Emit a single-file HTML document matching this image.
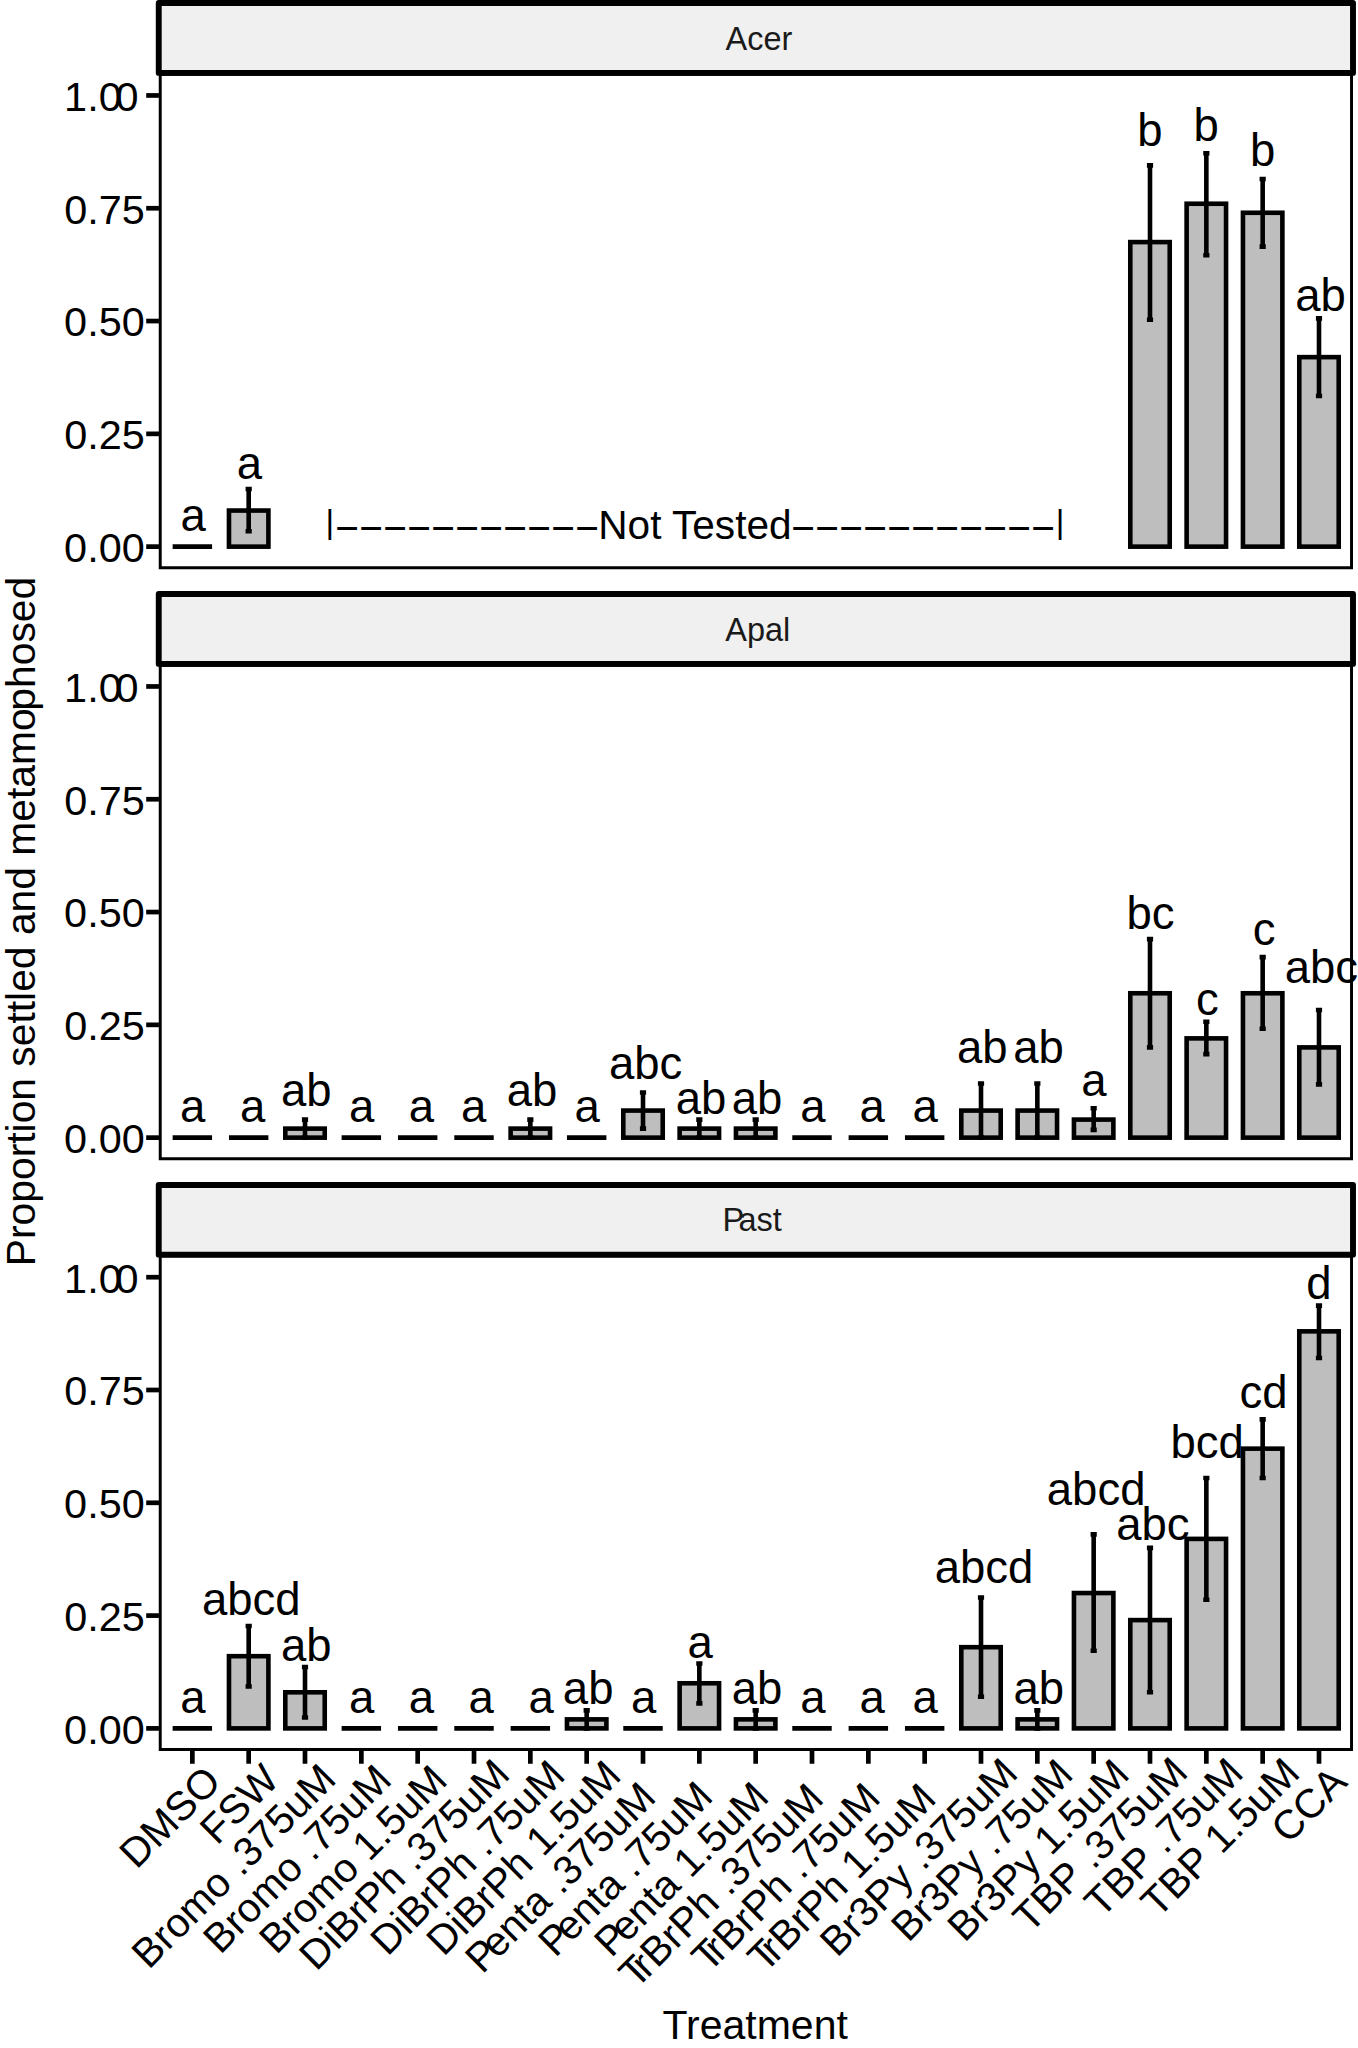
<!DOCTYPE html>
<html lang="en"><head><meta charset="utf-8"><title>Proportion settled and metamorphosed by treatment</title>
<style>html,body{margin:0;padding:0;background:#fff}svg{display:block}text{font-family:"Liberation Sans",Arial,Helvetica,sans-serif;fill:#000}.ax{font-size:40.8px}.ay{font-size:41.4px}.lb{font-size:45.5px}.st{font-size:32.5px;fill:#1a1a1a}.nt{font-size:40.6px}.bar{fill:#bebebe;stroke:#000;stroke-width:4.6;stroke-linejoin:miter}.ln{stroke:#000;stroke-width:4.6;fill:none}.tk{stroke:#000;stroke-width:4.7;fill:none}</style></head><body>
<svg width="1358" height="2048" viewBox="0 0 1358 2048">
<rect width="1358" height="2048" fill="#fff"/>
<defs>
<clipPath id="cp0"><rect x="158.75" y="72.9" width="1194.25" height="496.3"/></clipPath>
<clipPath id="cp1"><rect x="158.75" y="663.9" width="1194.25" height="496.3"/></clipPath>
<clipPath id="cp2"><rect x="158.75" y="1254.65" width="1194.25" height="496.3"/></clipPath>
</defs>
<g id="panel-acer">
<g clip-path="url(#cp0)">
<line class="ln" x1="172.63" x2="212.07" y1="546.64" y2="546.64"/>
<rect class="bar" x="228.97" y="510.55" width="39.43" height="36.09"/>
<rect class="bar" x="1130.29" y="242.09" width="39.43" height="304.55"/>
<rect class="bar" x="1186.62" y="203.74" width="39.43" height="342.90"/>
<rect class="bar" x="1242.95" y="212.77" width="39.43" height="333.87"/>
<rect class="bar" x="1299.28" y="357.14" width="39.43" height="189.50"/>
<path class="ln" d="M245.58 489.07H251.78M248.68 489.07V531.30M245.58 531.30H251.78"/>
<path class="ln" d="M1146.90 165.39H1153.10M1150.00 165.39V319.70M1146.90 319.70H1153.10"/>
<path class="ln" d="M1203.24 153.21H1209.44M1206.34 153.21V255.18M1203.24 255.18H1209.44"/>
<path class="ln" d="M1259.57 178.93H1265.77M1262.67 178.93V246.61M1259.57 246.61H1265.77"/>
<path class="ln" d="M1315.90 318.34H1322.10M1319.00 318.34V395.95M1315.90 395.95H1322.10"/>
<rect x="158.75" y="72.9" width="1194.25" height="496.3" fill="none" stroke="#000" stroke-width="5.9"/>
</g>
<text class="lb" x="180.47" y="531.10">a</text>
<text class="lb" x="236.78" y="478.80">a</text>
<text class="lb" x="1137.17" y="146.30">b</text>
<text class="lb" x="1193.38" y="140.60">b</text>
<text class="lb" x="1249.97" y="165.50">b</text>
<text class="lb" x="1295.15" y="310.50">ab</text>
<text class="nt" y="539"><tspan x="325.4" dy="-6.1" style="font-size:33.3px">|</tspan><tspan x="335.35" dy="9.3" style="letter-spacing:0.29px">−−−−−−−−−−−</tspan><tspan x="598.3" dy="-3.2">Not Tested</tspan><tspan x="791.35" dy="3.2" style="letter-spacing:0.29px">−−−−−−−−−−−</tspan><tspan x="1055.67" dy="-9.3" style="font-size:33.3px">|</tspan></text>
<rect x="158.75" y="2.95" width="1194.25" height="69.95" fill="#f0f0f0" stroke="#000" stroke-width="5.9" stroke-linejoin="round"/>
<text class="st" x="725.51" y="49.75">Acer</text>
<line class="tk" x1="146.2" x2="158.95" y1="546.64" y2="546.64"/>
<text class="ay" x="64.12" y="562.04">0.00</text>
<line class="tk" x1="146.2" x2="158.95" y1="433.85" y2="433.85"/>
<text class="ay" x="64.25" y="449.25">0.25</text>
<line class="tk" x1="146.2" x2="158.95" y1="321.05" y2="321.05"/>
<text class="ay" x="64.12" y="336.45">0.50</text>
<line class="tk" x1="146.2" x2="158.95" y1="208.25" y2="208.25"/>
<text class="ay" x="64.25" y="223.65">0.75</text>
<line class="tk" x1="146.2" x2="158.95" y1="95.46" y2="95.46"/>
<text class="ay" x="64.12" y="110.86">1.0<tspan dx="-6.1">0</tspan></text>
</g>
<g id="panel-apal">
<g clip-path="url(#cp1)">
<line class="ln" x1="172.63" x2="212.07" y1="1137.64" y2="1137.64"/>
<line class="ln" x1="228.97" x2="268.40" y1="1137.64" y2="1137.64"/>
<rect class="bar" x="285.30" y="1128.62" width="39.43" height="9.02"/>
<line class="ln" x1="341.63" x2="381.06" y1="1137.64" y2="1137.64"/>
<line class="ln" x1="397.96" x2="437.40" y1="1137.64" y2="1137.64"/>
<line class="ln" x1="454.30" x2="493.73" y1="1137.64" y2="1137.64"/>
<rect class="bar" x="510.63" y="1128.62" width="39.43" height="9.02"/>
<line class="ln" x1="566.96" x2="606.39" y1="1137.64" y2="1137.64"/>
<rect class="bar" x="623.29" y="1110.57" width="39.43" height="27.07"/>
<rect class="bar" x="679.63" y="1128.62" width="39.43" height="9.02"/>
<rect class="bar" x="735.96" y="1128.62" width="39.43" height="9.02"/>
<line class="ln" x1="792.29" x2="831.72" y1="1137.64" y2="1137.64"/>
<line class="ln" x1="848.62" x2="888.06" y1="1137.64" y2="1137.64"/>
<line class="ln" x1="904.96" x2="944.39" y1="1137.64" y2="1137.64"/>
<rect class="bar" x="961.29" y="1110.57" width="39.43" height="27.07"/>
<rect class="bar" x="1017.62" y="1110.57" width="39.43" height="27.07"/>
<rect class="bar" x="1073.95" y="1119.59" width="39.43" height="18.05"/>
<rect class="bar" x="1130.29" y="993.26" width="39.43" height="144.38"/>
<rect class="bar" x="1186.62" y="1038.38" width="39.43" height="99.26"/>
<rect class="bar" x="1242.95" y="993.26" width="39.43" height="144.38"/>
<rect class="bar" x="1299.28" y="1047.40" width="39.43" height="90.24"/>
<path class="ln" d="M301.91 1119.59H308.11M305.01 1119.59V1137.64M301.91 1137.64H308.11"/>
<path class="ln" d="M527.24 1119.59H533.44M530.34 1119.59V1137.64M527.24 1137.64H533.44"/>
<path class="ln" d="M639.91 1092.52H646.11M643.01 1092.52V1128.62M639.91 1128.62H646.11"/>
<path class="ln" d="M696.24 1119.59H702.44M699.34 1119.59V1137.64M696.24 1137.64H702.44"/>
<path class="ln" d="M752.57 1119.59H758.77M755.67 1119.59V1137.64M752.57 1137.64H758.77"/>
<path class="ln" d="M977.91 1083.50H984.11M981.01 1083.50V1137.64M977.91 1137.64H984.11"/>
<path class="ln" d="M1034.24 1083.50H1040.44M1037.34 1083.50V1137.64M1034.24 1137.64H1040.44"/>
<path class="ln" d="M1090.57 1108.31H1096.77M1093.67 1108.31V1129.84M1090.57 1129.84H1096.77"/>
<path class="ln" d="M1146.90 939.12H1153.10M1150.00 939.12V1047.40M1146.90 1047.40H1153.10"/>
<path class="ln" d="M1203.24 1021.69H1209.44M1206.34 1021.69V1054.17M1203.24 1054.17H1209.44"/>
<path class="ln" d="M1259.57 957.17H1265.77M1262.67 957.17V1028.68M1259.57 1028.68H1265.77"/>
<path class="ln" d="M1315.90 1009.96H1322.10M1319.00 1009.96V1084.40M1315.90 1084.40H1322.10"/>
<rect x="158.75" y="663.9" width="1194.25" height="496.3" fill="none" stroke="#000" stroke-width="5.9"/>
</g>
<text class="lb" x="179.97" y="1121.70">a</text>
<text class="lb" x="240.07" y="1121.70">a</text>
<text class="lb" x="280.95" y="1105.60">ab</text>
<text class="lb" x="348.98" y="1121.70">a</text>
<text class="lb" x="408.68" y="1121.70">a</text>
<text class="lb" x="461.07" y="1121.70">a</text>
<text class="lb" x="506.75" y="1105.60">ab</text>
<text class="lb" x="574.38" y="1121.70">a</text>
<text class="lb" x="608.90" y="1079.30">abc</text>
<text class="lb" x="675.75" y="1113.80">ab</text>
<text class="lb" x="731.75" y="1113.80">ab</text>
<text class="lb" x="800.17" y="1121.70">a</text>
<text class="lb" x="859.38" y="1121.70">a</text>
<text class="lb" x="912.58" y="1121.70">a</text>
<text class="lb" x="956.95" y="1063.00">ab</text>
<text class="lb" x="1013.25" y="1063.00">ab</text>
<text class="lb" x="1081.17" y="1095.50">a</text>
<text class="lb" x="1126.49" y="929.30">bc</text>
<text class="lb" x="1196.11" y="1014.50">c</text>
<text class="lb" x="1252.71" y="945.30">c</text>
<text class="lb" x="1284.70" y="983.10">abc</text>
<rect x="158.75" y="594.05" width="1194.25" height="69.85" fill="#f0f0f0" stroke="#000" stroke-width="5.9" stroke-linejoin="round"/>
<text class="st" x="725.25" y="640.75">Apal</text>
<line class="tk" x1="146.2" x2="158.95" y1="1137.64" y2="1137.64"/>
<text class="ay" x="64.12" y="1153.04">0.00</text>
<line class="tk" x1="146.2" x2="158.95" y1="1024.85" y2="1024.85"/>
<text class="ay" x="64.25" y="1040.25">0.25</text>
<line class="tk" x1="146.2" x2="158.95" y1="912.05" y2="912.05"/>
<text class="ay" x="64.12" y="927.45">0.50</text>
<line class="tk" x1="146.2" x2="158.95" y1="799.25" y2="799.25"/>
<text class="ay" x="64.25" y="814.65">0.75</text>
<line class="tk" x1="146.2" x2="158.95" y1="686.46" y2="686.46"/>
<text class="ay" x="64.12" y="701.86">1.0<tspan dx="-6.1">0</tspan></text>
</g>
<g id="panel-past">
<g clip-path="url(#cp2)">
<line class="ln" x1="172.63" x2="212.07" y1="1728.39" y2="1728.39"/>
<rect class="bar" x="228.97" y="1656.20" width="39.43" height="72.19"/>
<rect class="bar" x="285.30" y="1692.30" width="39.43" height="36.09"/>
<line class="ln" x1="341.63" x2="381.06" y1="1728.39" y2="1728.39"/>
<line class="ln" x1="397.96" x2="437.40" y1="1728.39" y2="1728.39"/>
<line class="ln" x1="454.30" x2="493.73" y1="1728.39" y2="1728.39"/>
<line class="ln" x1="510.63" x2="550.06" y1="1728.39" y2="1728.39"/>
<rect class="bar" x="566.96" y="1719.37" width="39.43" height="9.02"/>
<line class="ln" x1="623.29" x2="662.73" y1="1728.39" y2="1728.39"/>
<rect class="bar" x="679.63" y="1683.27" width="39.43" height="45.12"/>
<rect class="bar" x="735.96" y="1719.37" width="39.43" height="9.02"/>
<line class="ln" x1="792.29" x2="831.72" y1="1728.39" y2="1728.39"/>
<line class="ln" x1="848.62" x2="888.06" y1="1728.39" y2="1728.39"/>
<line class="ln" x1="904.96" x2="944.39" y1="1728.39" y2="1728.39"/>
<rect class="bar" x="961.29" y="1647.18" width="39.43" height="81.21"/>
<rect class="bar" x="1017.62" y="1719.37" width="39.43" height="9.02"/>
<rect class="bar" x="1073.95" y="1593.04" width="39.43" height="135.35"/>
<rect class="bar" x="1130.29" y="1620.11" width="39.43" height="108.28"/>
<rect class="bar" x="1186.62" y="1538.89" width="39.43" height="189.50"/>
<rect class="bar" x="1242.95" y="1448.66" width="39.43" height="279.73"/>
<rect class="bar" x="1299.28" y="1331.35" width="39.43" height="397.04"/>
<path class="ln" d="M245.58 1625.97H251.78M248.68 1625.97V1686.43M245.58 1686.43H251.78"/>
<path class="ln" d="M301.91 1667.03H308.11M305.01 1667.03V1717.56M301.91 1717.56H308.11"/>
<path class="ln" d="M583.58 1710.34H589.78M586.68 1710.34V1728.39M583.58 1728.39H589.78"/>
<path class="ln" d="M696.24 1663.56H702.44M699.34 1663.56V1703.35M696.24 1703.35H702.44"/>
<path class="ln" d="M752.57 1710.34H758.77M755.67 1710.34V1728.39M752.57 1728.39H758.77"/>
<path class="ln" d="M977.91 1597.55H984.11M981.01 1597.55V1696.81M977.91 1696.81H984.11"/>
<path class="ln" d="M1034.24 1710.34H1040.44M1037.34 1710.34V1728.39M1034.24 1728.39H1040.44"/>
<path class="ln" d="M1090.57 1534.38H1096.77M1093.67 1534.38V1650.79M1090.57 1650.79H1096.77"/>
<path class="ln" d="M1146.90 1547.92H1153.10M1150.00 1547.92V1692.30M1146.90 1692.30H1153.10"/>
<path class="ln" d="M1203.24 1477.99H1209.44M1206.34 1477.99V1599.80M1203.24 1599.80H1209.44"/>
<path class="ln" d="M1259.57 1419.33H1265.77M1262.67 1419.33V1477.99M1259.57 1477.99H1265.77"/>
<path class="ln" d="M1315.90 1305.63H1322.10M1319.00 1305.63V1357.97M1315.90 1357.97H1322.10"/>
<rect x="158.75" y="1254.65" width="1194.25" height="496.3" fill="none" stroke="#000" stroke-width="5.9"/>
</g>
<text class="lb" x="180.18" y="1712.70">a</text>
<text class="lb" x="201.99" y="1615.00">abcd</text>
<text class="lb" x="280.95" y="1660.60">ab</text>
<text class="lb" x="348.98" y="1712.70">a</text>
<text class="lb" x="408.68" y="1712.70">a</text>
<text class="lb" x="468.57" y="1712.70">a</text>
<text class="lb" x="528.38" y="1712.70">a</text>
<text class="lb" x="562.85" y="1704.40">ab</text>
<text class="lb" x="631.08" y="1712.70">a</text>
<text class="lb" x="687.38" y="1658.10">a</text>
<text class="lb" x="731.75" y="1704.40">ab</text>
<text class="lb" x="800.17" y="1712.70">a</text>
<text class="lb" x="859.38" y="1712.70">a</text>
<text class="lb" x="912.58" y="1712.70">a</text>
<text class="lb" x="934.69" y="1583.10">abcd</text>
<text class="lb" x="1013.55" y="1704.00">ab</text>
<text class="lb" x="1046.79" y="1505.10">abcd</text>
<text class="lb" x="1116.20" y="1540.30">abc</text>
<text class="lb" x="1170.38" y="1458.30">bcd</text>
<text class="lb" x="1239.60" y="1407.50">cd</text>
<text class="lb" x="1306.28" y="1299.30">d</text>
<rect x="158.75" y="1185" width="1194.25" height="69.65" fill="#f0f0f0" stroke="#000" stroke-width="5.9" stroke-linejoin="round"/>
<text class="st" x="722.42" y="1231.25">P<tspan dx="-5.65">ast</tspan></text>
<line class="tk" x1="146.2" x2="158.95" y1="1728.39" y2="1728.39"/>
<text class="ay" x="64.12" y="1743.79">0.00</text>
<line class="tk" x1="146.2" x2="158.95" y1="1615.60" y2="1615.60"/>
<text class="ay" x="64.25" y="1631.00">0.25</text>
<line class="tk" x1="146.2" x2="158.95" y1="1502.80" y2="1502.80"/>
<text class="ay" x="64.12" y="1518.20">0.50</text>
<line class="tk" x1="146.2" x2="158.95" y1="1390.00" y2="1390.00"/>
<text class="ay" x="64.25" y="1405.40">0.75</text>
<line class="tk" x1="146.2" x2="158.95" y1="1277.21" y2="1277.21"/>
<text class="ay" x="64.12" y="1292.61">1.0<tspan dx="-6.1">0</tspan></text>
</g>
<g id="x-axis">
<line class="tk" x1="192.35" x2="192.35" y1="1750.75" y2="1763.75"/>
<text class="ax" text-anchor="end" transform="translate(222.94 1783.56) rotate(-45)">DMSO</text>
<line class="tk" x1="248.68" x2="248.68" y1="1750.75" y2="1763.75"/>
<text class="ax" text-anchor="end" transform="translate(280.97 1781.86) rotate(-45)">FSW</text>
<line class="tk" x1="305.01" x2="305.01" y1="1750.75" y2="1763.75"/>
<text class="ax" text-anchor="end" transform="translate(338.01 1781.15) rotate(-45)">Bromo .375uM</text>
<line class="tk" x1="361.35" x2="361.35" y1="1750.75" y2="1763.75"/>
<text class="ax" text-anchor="end" transform="translate(393.43 1782.07) rotate(-45)">Bromo .75uM</text>
<line class="tk" x1="417.68" x2="417.68" y1="1750.75" y2="1763.75"/>
<text class="ax" text-anchor="end" transform="translate(449.41 1782.42) rotate(-45)">Bromo 1.5uM</text>
<line class="tk" x1="474.01" x2="474.01" y1="1750.75" y2="1763.75"/>
<text class="ax" text-anchor="end" transform="translate(511.82 1776.34) rotate(-45)">DiBrPh .375uM</text>
<line class="tk" x1="530.34" x2="530.34" y1="1750.75" y2="1763.75"/>
<text class="ax" text-anchor="end" transform="translate(566.95 1777.54) rotate(-45)">DiBrPh .75uM</text>
<line class="tk" x1="586.68" x2="586.68" y1="1750.75" y2="1763.75"/>
<text class="ax" text-anchor="end" transform="translate(623.14 1777.69) rotate(-45)">DiBrPh 1.5uM</text>
<line class="tk" x1="643.01" x2="643.01" y1="1750.75" y2="1763.75"/>
<text class="ax" text-anchor="end" transform="translate(657.69 1799.46) rotate(-45)">P<tspan dx="-6">enta .375uM</tspan></text>
<line class="tk" x1="699.34" x2="699.34" y1="1750.75" y2="1763.75"/>
<text class="ax" text-anchor="end" transform="translate(714.66 1798.83) rotate(-45)">P<tspan dx="-6">enta .75uM</tspan></text>
<line class="tk" x1="755.67" x2="755.67" y1="1750.75" y2="1763.75"/>
<text class="ax" text-anchor="end" transform="translate(770.71 1799.11) rotate(-45)">P<tspan dx="-6">enta 1.5uM</tspan></text>
<line class="tk" x1="812.01" x2="812.01" y1="1750.75" y2="1763.75"/>
<text class="ax" text-anchor="end" transform="translate(825.49 1800.67) rotate(-45)">T<tspan dx="-7.3">rBrPh .375uM</tspan></text>
<line class="tk" x1="868.34" x2="868.34" y1="1750.75" y2="1763.75"/>
<text class="ax" text-anchor="end" transform="translate(882.18 1800.31) rotate(-45)">T<tspan dx="-7.3">rBrPh .75uM</tspan></text>
<line class="tk" x1="924.67" x2="924.67" y1="1750.75" y2="1763.75"/>
<text class="ax" text-anchor="end" transform="translate(938.16 1800.67) rotate(-45)">T<tspan dx="-7.3">rBrPh 1.5uM</tspan></text>
<line class="tk" x1="981.01" x2="981.01" y1="1750.75" y2="1763.75"/>
<text class="ax" text-anchor="end" transform="translate(1019.80 1775.35) rotate(-45)">Br3Py .375uM</text>
<line class="tk" x1="1037.34" x2="1037.34" y1="1750.75" y2="1763.75"/>
<text class="ax" text-anchor="end" transform="translate(1074.93 1776.55) rotate(-45)">Br3Py .75uM</text>
<line class="tk" x1="1093.67" x2="1093.67" y1="1750.75" y2="1763.75"/>
<text class="ax" text-anchor="end" transform="translate(1131.27 1776.55) rotate(-45)">Br3Py 1.5uM</text>
<line class="tk" x1="1150.00" x2="1150.00" y1="1750.75" y2="1763.75"/>
<text class="ax" text-anchor="end" transform="translate(1189.79 1774.36) rotate(-45)">TBP .375uM</text>
<line class="tk" x1="1206.34" x2="1206.34" y1="1750.75" y2="1763.75"/>
<text class="ax" text-anchor="end" transform="translate(1245.34 1775.14) rotate(-45)">TBP .75uM</text>
<line class="tk" x1="1262.67" x2="1262.67" y1="1750.75" y2="1763.75"/>
<text class="ax" text-anchor="end" transform="translate(1301.68 1775.14) rotate(-45)">TBP 1.5uM</text>
<line class="tk" x1="1319.00" x2="1319.00" y1="1750.75" y2="1763.75"/>
<text class="ax" text-anchor="end" transform="translate(1349.10 1784.05) rotate(-45)">CCA</text>
</g>
<text x="662.51" y="2038.5" style="font-size:41px">Treatment</text>
<text transform="translate(35.2 1266.2) rotate(-90)" style="font-size:40.8px">Proportion settled and metamo<tspan dx="-2.3">phosed</tspan></text>
</svg></body></html>
